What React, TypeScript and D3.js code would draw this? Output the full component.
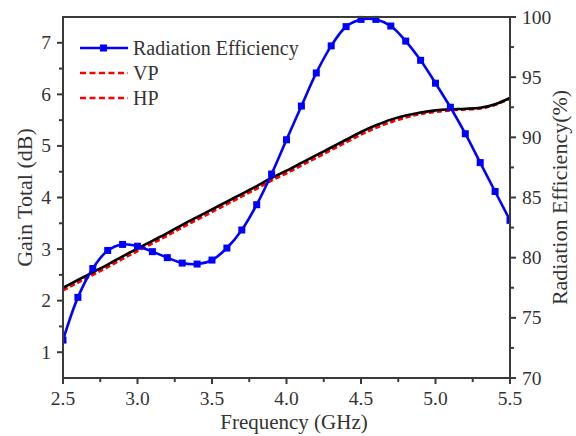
import React from "react";
import * as d3 from "d3";

const freq = [2.5, 2.6, 2.7, 2.8, 2.9, 3.0, 3.1, 3.2, 3.3, 3.4, 3.5, 3.6, 3.7, 3.8, 3.9, 4.0, 4.1, 4.2, 4.3, 4.4, 4.5, 4.6, 4.7, 4.8, 4.9, 5.0, 5.1, 5.2, 5.3, 5.4, 5.5];
const efficiency = [73.15, 76.7, 79.1, 80.6, 81.1, 80.95, 80.5, 80.0, 79.55, 79.47, 79.8, 80.8, 82.3, 84.4, 86.95, 89.8, 92.6, 95.35, 97.6, 99.2, 99.8, 99.8, 99.25, 98.0, 96.4, 94.5, 92.5, 90.3, 87.9, 85.5, 83.1];
const gainTotal = [2.25, 2.4, 2.55, 2.7, 2.86, 3.01, 3.16, 3.31, 3.47, 3.62, 3.77, 3.92, 4.07, 4.22, 4.38, 4.52, 4.67, 4.82, 4.97, 5.12, 5.27, 5.4, 5.51, 5.59, 5.65, 5.69, 5.71, 5.72, 5.74, 5.81, 5.93];
const gainVP = [2.2, 2.35, 2.5, 2.65, 2.81, 2.96, 3.11, 3.26, 3.42, 3.57, 3.72, 3.87, 4.02, 4.17, 4.33, 4.47, 4.62, 4.77, 4.92, 5.07, 5.22, 5.35, 5.46, 5.55, 5.62, 5.66, 5.69, 5.71, 5.73, 5.8, 5.92];
const gainHP = [2.21, 2.36, 2.51, 2.66, 2.82, 2.97, 3.12, 3.27, 3.43, 3.58, 3.73, 3.88, 4.03, 4.18, 4.34, 4.48, 4.63, 4.78, 4.93, 5.08, 5.23, 5.36, 5.47, 5.56, 5.63, 5.67, 5.7, 5.71, 5.73, 5.8, 5.92];

const xTicks = [2.5, 3.0, 3.5, 4.0, 4.5, 5.0, 5.5];
const xMinor = [2.75, 3.25, 3.75, 4.25, 4.75, 5.25];
const yLeftTicks = [1, 2, 3, 4, 5, 6, 7];
const yLeftMinor = [1.5, 2.5, 3.5, 4.5, 5.5, 6.5];
const yRightTicks = [70, 75, 80, 85, 90, 95, 100];
const yRightMinor = [72.5, 77.5, 82.5, 87.5, 92.5, 97.5];

const legendLabels = ["Radiation Efficiency", "VP", "HP"];

const L = 63, R = 510, T = 17, B = 378;
const axisColor = "#3a3a3a";
const textColor = "#333";
const fontStyle = { fontFamily: '"Liberation Serif", serif' };

export default function App() {
  const x = d3.scaleLinear().domain([2.5, 5.5]).range([L, R]);
  const yL = d3.scaleLinear().domain([0.5, 7.5]).range([B, T]);
  const yR = d3.scaleLinear().domain([70, 100]).range([B, T]);

  const effPts: [number, number][] = freq.map((f, i) => [x(f), yR(efficiency[i])]);
  const lineEff = d3.line().curve(d3.curveCatmullRom)(effPts) || "";
  const mk = (arr: number[]) =>
    d3.line().curve(d3.curveMonotoneX)(freq.map((f, i) => [x(f), yL(arr[i])] as [number, number])) || "";

  const legendY = [48, 73, 98];

  return (
    <svg width={576} height={436} style={{ position: "absolute", left: 0, top: 0, background: "#fff" }}>
      <rect x={0} y={0} width={576} height={436} fill="#fff" />
      <defs>
        <clipPath id="plot">
          <rect x={L} y={T - 2} width={R - L} height={B - T + 2} />
        </clipPath>
      </defs>

      <g clipPath="url(#plot)">
        <path d={mk(gainVP)} fill="none" stroke="#ff0000" strokeWidth={2.6} strokeDasharray="5,3" />
        <path d={mk(gainHP)} fill="none" stroke="#ff0000" strokeWidth={2.6} strokeDasharray="5,3" />
        <path d={mk(gainTotal)} fill="none" stroke="#000" strokeWidth={2.6} />
        <path d={lineEff} fill="none" stroke="#0000ff" strokeWidth={2.6} />
        {effPts.map((p, i) => (
          <rect key={i} x={p[0] - 3.5} y={p[1] - 3.5} width={7} height={7} fill="#0000ff" />
        ))}
      </g>

      {/* frame */}
      <line x1={L} y1={T} x2={R} y2={T} stroke={axisColor} strokeWidth={2} />
      <line x1={L} y1={T - 1} x2={L} y2={B + 1} stroke={axisColor} strokeWidth={2} />
      <line x1={R} y1={T - 1} x2={R} y2={B + 1} stroke={axisColor} strokeWidth={2} />
      <line x1={L - 1} y1={B} x2={R + 1} y2={B} stroke={axisColor} strokeWidth={2} />

      {/* x ticks */}
      {xTicks.map((t) => (
        <g key={"xt" + t}>
          <line x1={x(t)} x2={x(t)} y1={B} y2={B + 6} stroke={axisColor} strokeWidth={2} />
          <text x={x(t)} y={405} textAnchor="middle" fontSize={19.5} fill={textColor} style={fontStyle}>{t.toFixed(1)}</text>
        </g>
      ))}
      {xMinor.map((t) => (
        <line key={"xm" + t} x1={x(t)} x2={x(t)} y1={B} y2={B + 4} stroke={axisColor} strokeWidth={2} />
      ))}

      {/* left ticks */}
      {yLeftTicks.map((t) => (
        <g key={"yl" + t}>
          <line x1={L - 6} x2={L} y1={yL(t)} y2={yL(t)} stroke={axisColor} strokeWidth={2} />
          <text x={51} y={yL(t) + 6.5} textAnchor="end" fontSize={19.5} fill={textColor} style={fontStyle}>{t}</text>
        </g>
      ))}
      {yLeftMinor.map((t) => (
        <line key={"ylm" + t} x1={L - 4} x2={L} y1={yL(t)} y2={yL(t)} stroke={axisColor} strokeWidth={2} />
      ))}

      {/* right ticks */}
      {yRightTicks.map((t) => (
        <g key={"yr" + t}>
          <line x1={R} x2={R + 6} y1={yR(t)} y2={yR(t)} stroke={axisColor} strokeWidth={2} />
          <text x={522} y={yR(t) + 6.5} textAnchor="start" fontSize={19.5} fill={textColor} style={fontStyle}>{t}</text>
        </g>
      ))}
      {yRightMinor.map((t) => (
        <line key={"yrm" + t} x1={R} x2={R + 4} y1={yR(t)} y2={yR(t)} stroke={axisColor} strokeWidth={2} />
      ))}

      {/* titles */}
      <text x={294} y={429} textAnchor="middle" fontSize={21} fill={textColor} style={fontStyle}>Frequency (GHz)</text>
      <text transform={`translate(32,${(T + B) / 2}) rotate(-90)`} textAnchor="middle" fontSize={22} fill={textColor} style={fontStyle}>Gain Total (dB)</text>
      <text transform={`translate(567,${(T + B) / 2}) rotate(-90)`} textAnchor="middle" fontSize={22} fill={textColor} style={fontStyle}>Radiation Efficiency(%)</text>

      {/* legend */}
      <line x1={80} x2={128} y1={legendY[0]} y2={legendY[0]} stroke="#0000ff" strokeWidth={2.6} />
      <rect x={100} y={legendY[0] - 3.5} width={7} height={7} fill="#0000ff" />
      <line x1={80} x2={128} y1={legendY[1]} y2={legendY[1]} stroke="#ff0000" strokeWidth={2.6} strokeDasharray="6,3.5" />
      <line x1={80} x2={128} y1={legendY[2]} y2={legendY[2]} stroke="#ff0000" strokeWidth={2.6} strokeDasharray="6,3.5" />
      {legendLabels.map((l, i) => (
        <text key={l} x={133} y={legendY[i] + 7} fontSize={20} fill={textColor} style={fontStyle}>{l}</text>
      ))}
    </svg>
  );
}
